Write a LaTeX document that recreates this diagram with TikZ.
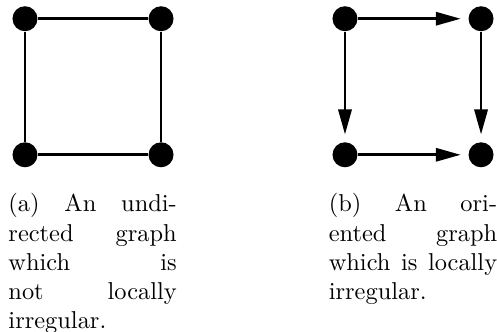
\documentclass[tikz,border=0pt]{standalone}
\usetikzlibrary{arrows.meta,positioning}
\tikzset{
  >={Triangle[length=3.6mm,width=1.9mm]},
  vtx/.style={circle, fill=black, inner sep=0pt, minimum size=3.6mm},
  uedge/.style={draw=black, line width=1.1pt},
  oarc/.style={->, draw=black, line width=1.1pt, shorten >=3pt},
  capt/.style={anchor=north west, text width=69pt, align=justify, inner sep=0pt,
               font={\fontsize{10pt}{12pt}\selectfont}},
}
\begin{document}
\begin{tikzpicture}
  \useasboundingbox (0,0) rectangle (7.16,-4.77);
  % undirected square
  \foreach \n/\x/\y in {1/0.36/-0.27,2/2.32/-0.27,3/0.36/-2.23,4/2.32/-2.23}{
    \node[vtx] (a\n) at (\x,\y){};
  }
  \draw[uedge] (a1) -- (a2) -- (a4) -- (a3) -- (a1);
  \node[capt] (capa) at (0.115,-2.78){(a) An undi-\linebreak rected graph\linebreak
    which is\linebreak not locally\linebreak irregular.};
  % oriented square
  \foreach \n/\x/\y in {1/4.97/-0.27,2/6.93/-0.27,3/4.97/-2.23,4/6.93/-2.23}{
    \node[vtx] (b\n) at (\x,\y){};
  }
  \draw[oarc] (b1) -- (b2);
  \draw[oarc] (b1) -- (b3);
  \draw[oarc] (b2) -- (b4);
  \draw[oarc] (b3) -- (b4);
  \node[capt] (capb) at (4.73,-2.78){(b) An ori-\linebreak ented graph\linebreak
    which is locally\linebreak irregular.};
\end{tikzpicture}
\end{document}
